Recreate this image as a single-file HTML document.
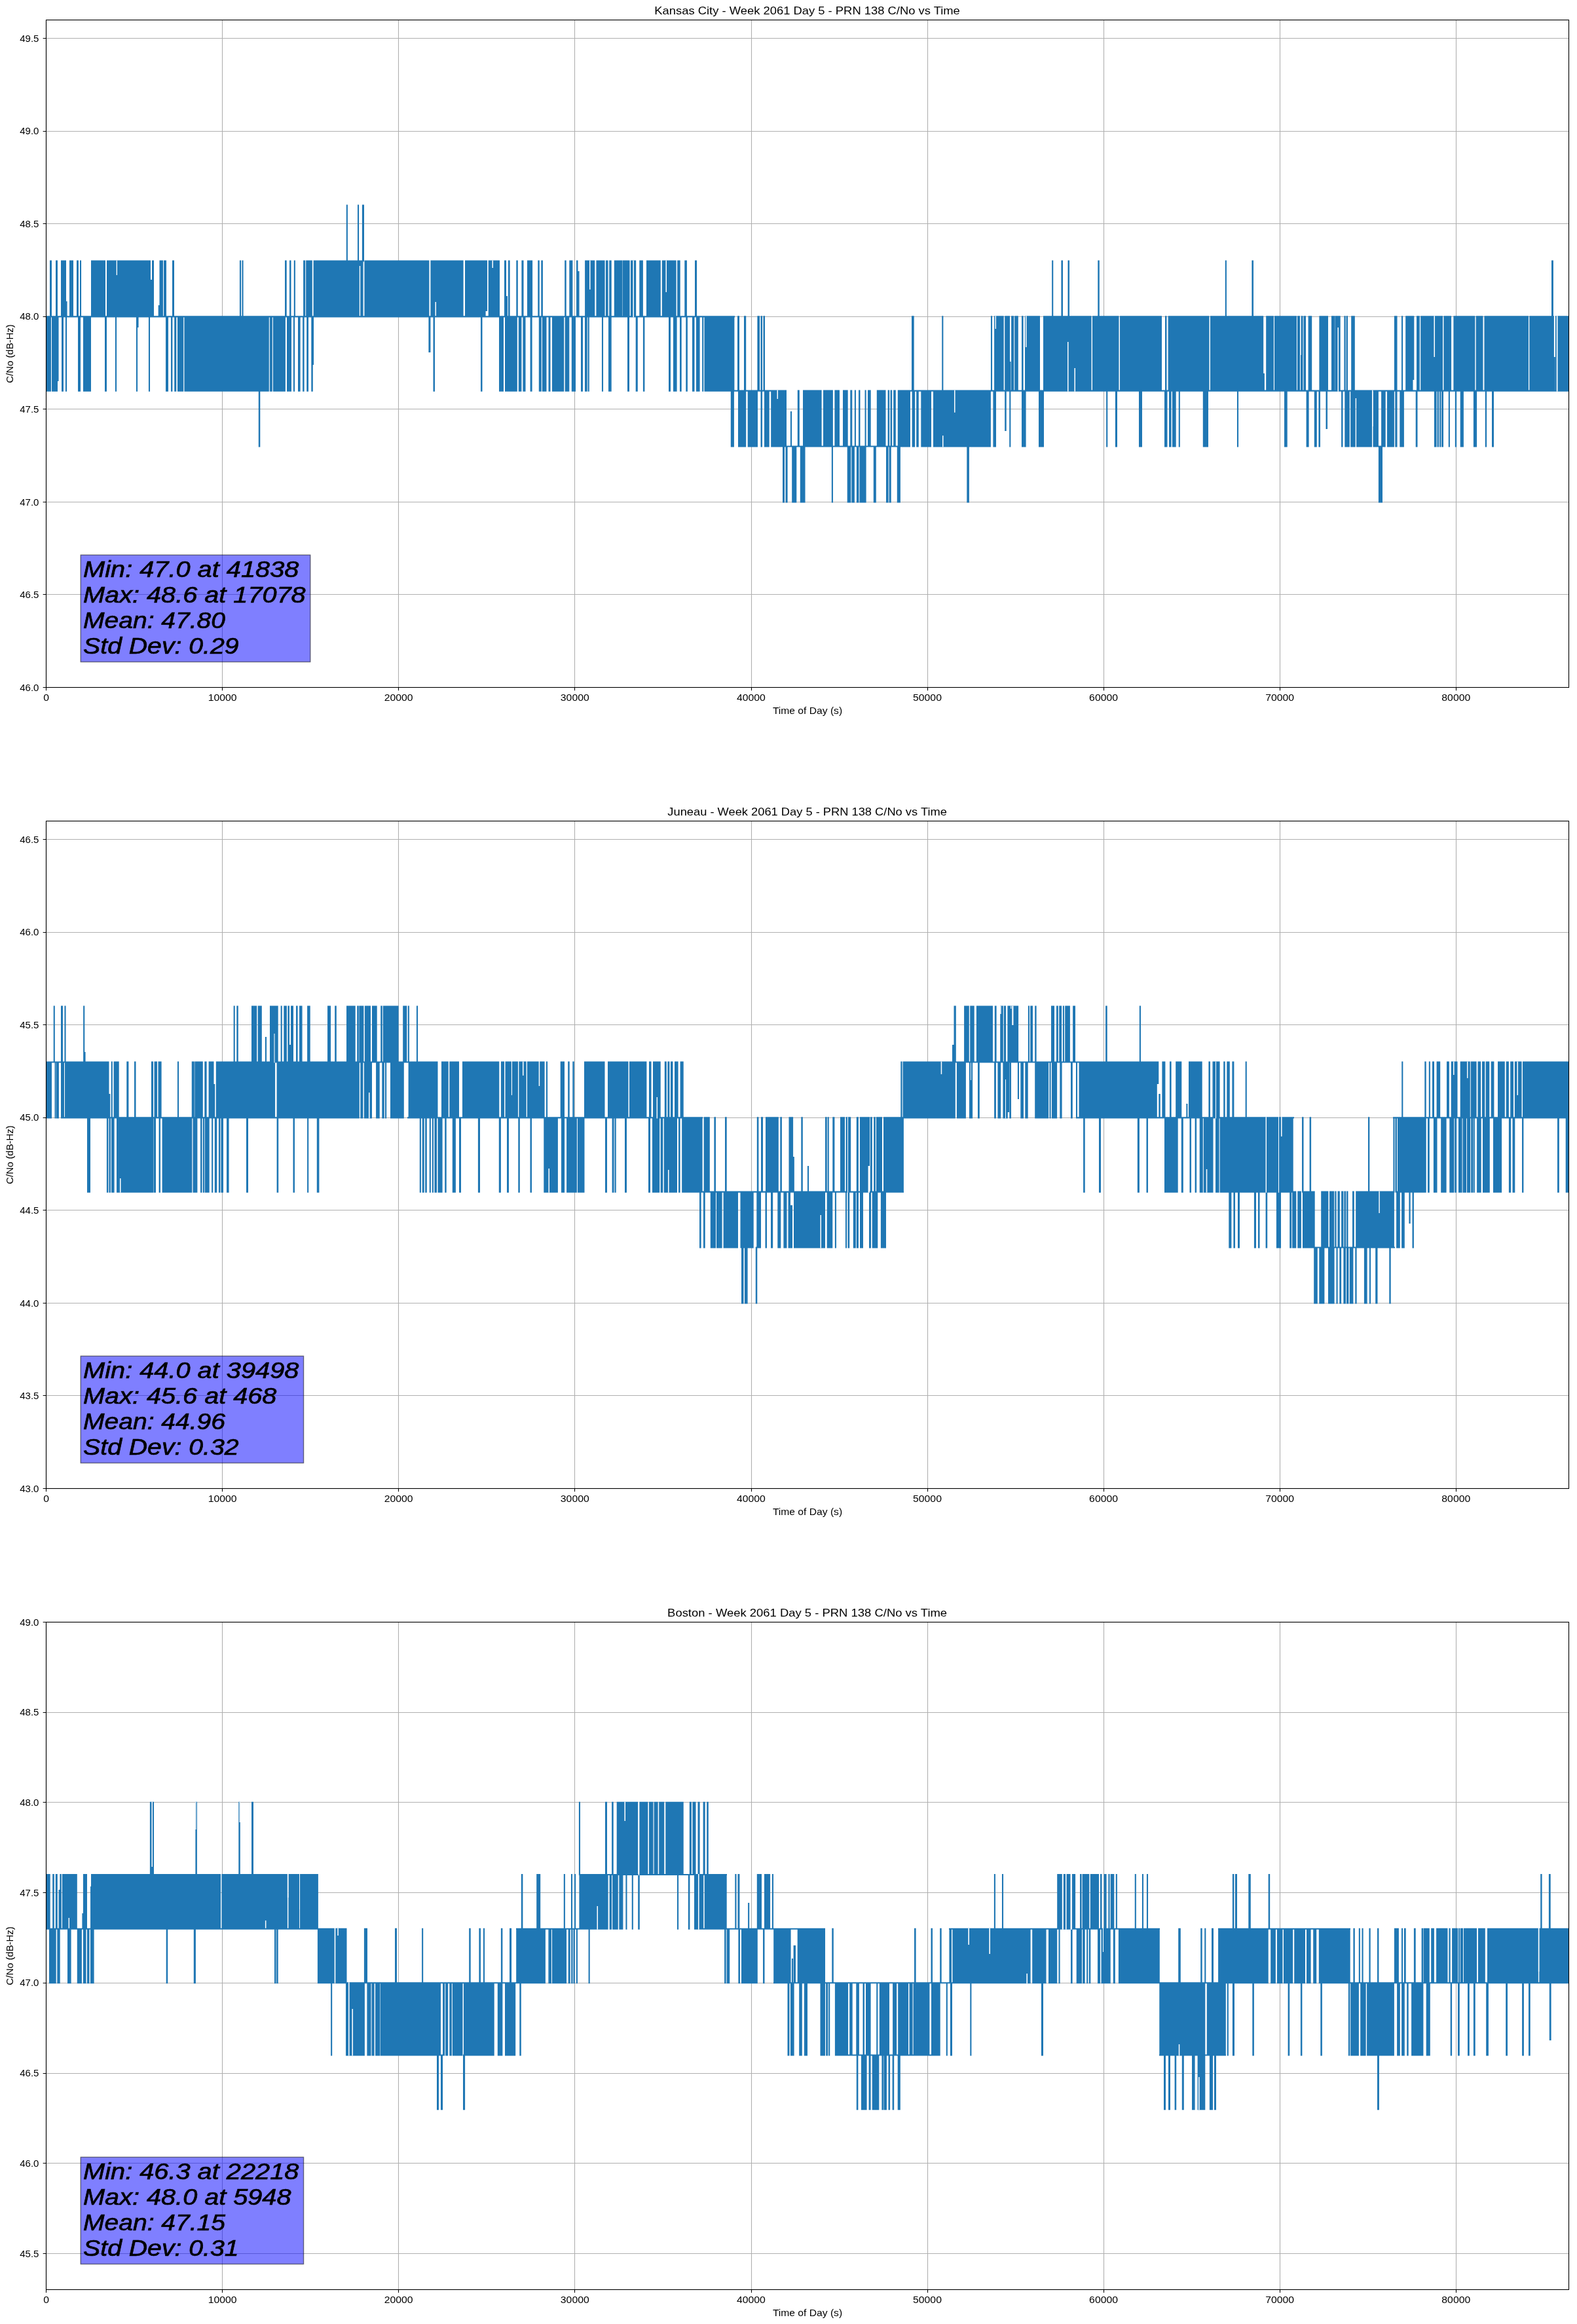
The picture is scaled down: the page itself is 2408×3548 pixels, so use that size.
<!DOCTYPE html><html><head><meta charset="utf-8"><style>html,body{margin:0;padding:0;background:#fff;}svg{display:block;} svg{will-change:transform}</style></head><body>
<svg width="2408" height="3548" viewBox="0 0 2408 3548" font-family="Liberation Sans, sans-serif">
<rect width="2408" height="3548" fill="#fff"/>
<path d="M70.5 30.5V1049.5M339.5 30.5V1049.5M608.5 30.5V1049.5M877.5 30.5V1049.5M1147.5 30.5V1049.5M1416.5 30.5V1049.5M1685.5 30.5V1049.5M1954.5 30.5V1049.5M2223.5 30.5V1049.5M70.5 1049.5H2395.5M70.5 907.5H2395.5M70.5 766.5H2395.5M70.5 624.5H2395.5M70.5 483.5H2395.5M70.5 341.5H2395.5M70.5 200.5H2395.5M70.5 58.5H2395.5" stroke="#b0b0b0" stroke-width="1.11" fill="none"/>
<svg x="70.5" y="30.5" width="2325.0" height="1019.0" viewBox="70.5 30.5 2325.0 1019.0" overflow="hidden">
<path d="M76 397.43h3v87h-3zM85 397.43h3v87h-3zM93 397.43h8v87h-8zM100.45 460h2.1v24.43h-2.1zM106 397.43h6v87h-6zM117 397.43h3v87h-3zM121.95 397.43h2.1v87h-2.1zM139 397.43h22v87h-22zM163 397.43h67v87h-67zM229.95 427h2.1v57.43h-2.1zM232 397.43h3v87h-3zM241.7 466h2.1v18.43h-2.1zM243.5 397.43h5.5v87h-5.5zM250 397.43h4v87h-4zM263 397.43h3v87h-3zM365.95 397.43h2.1v87h-2.1zM369.45 397.43h2.1v87h-2.1zM435 397.43h2.7v87h-2.7zM442 397.43h2.5v87h-2.5zM448.8 397.43h2.1v87h-2.1zM70.5 482.35h7.5v115.3h-7.5zM79 482.35h9v115.3h-9zM87.45 482.35h2.1v99.65h-2.1zM94 482.35h3v115.3h-3zM99.95 482.35h2.1v115.3h-2.1zM119 482.35h4v115.3h-4zM127 482.35h12v115.3h-12zM160 482.35h3v115.3h-3zM175.95 482.35h2.1v115.3h-2.1zM207.95 482.35h2.1v115.3h-2.1zM209.45 482.35h2.1v17.65h-2.1zM226.95 482.35h2.1v115.3h-2.1zM253 482.35h4v115.3h-4zM261 482.35h2.4v115.3h-2.4zM266.2 482.35h3.1v115.3h-3.1zM271 482.35h9.2v115.3h-9.2zM281.4 482.35h129.4v115.3h-129.4zM411.85 482.35h2.1v115.3h-2.1zM413.75 482.35h2.1v115.3h-2.1zM416.9 482.35h19v115.3h-19zM438 482.35h7v115.3h-7zM447.95 482.35h2.1v115.3h-2.1zM455 482.35h3.6v115.3h-3.6zM394.8 482.35h2.5v200.22h-2.5zM463.1 397.43h3.1v87h-3.1zM467.2 397.43h9.6v87h-9.6zM478.6 397.43h70.2v87h-70.2zM548.45 397.43h2.1v8.57h-2.1zM550.2 397.43h4.4v87h-4.4zM556.4 397.43h99v87h-99zM657.4 397.43h7.1v87h-7.1zM664.2 397.43h2.1v63.57h-2.1zM666 397.43h41.6v87h-41.6zM710 397.43h31.6v87h-31.6zM741.6 397.43h2.4v77.57h-2.4zM745.7 397.43h17.3v87h-17.3zM770 397.43h3v87h-3zM772.95 452h2.1v32.43h-2.1zM776 397.43h2.6v87h-2.6zM788.3 397.43h2.5v87h-2.5zM796.4 397.43h3.1v87h-3.1zM805 397.43h8.1v87h-8.1zM821.3 397.43h2.5v87h-2.5zM826.3 397.43h2.6v87h-2.6zM528.8 312.52h2.1v87h-2.1zM546 312.52h2.1v87h-2.1zM552.9 312.52h3.1v87h-3.1zM462.1 482.35h2.5v115.3h-2.5zM468.2 482.35h2.8v115.3h-2.8zM475.3 482.35h2.5v115.3h-2.5zM476.95 482.35h2.1v74.65h-2.1zM654.4 482.35h3v55.65h-3zM661.5 482.35h2.5v115.3h-2.5zM734 482.35h2.5v115.3h-2.5zM762 482.35h7v115.3h-7zM771 482.35h18.8v115.3h-18.8zM791.8 482.35h4.6v115.3h-4.6zM798.4 482.35h4.1v115.3h-4.1zM809.6 482.35h3v115.3h-3zM822.8 482.35h4v115.3h-4zM827.9 482.35h6.6v115.3h-6.6zM837.5 482.35h3v115.3h-3zM843 482.35h12v115.3h-12zM862.2 397.43h2.5v87h-2.5zM869.3 397.43h5.1v87h-5.1zM880 397.43h2.5v87h-2.5zM882.45 414h2.1v70.43h-2.1zM893.1 397.43h15.2v87h-15.2zM910.4 397.43h13.2v87h-13.2zM925 397.43h3.6v87h-3.6zM930.2 397.43h3.5v87h-3.5zM937.8 397.43h12.2v87h-12.2zM950.4 397.43h11.2v87h-11.2zM963 397.43h8.2v87h-8.2zM976.3 397.43h5.6v87h-5.6zM987 397.43h21.8v87h-21.8zM1010.8 397.43h21.8v87h-21.8zM1034.2 397.43h4.5v87h-4.5zM1045.3 397.43h3.6v87h-3.6zM1061 397.43h3.1v87h-3.1zM850 482.35h3.5v115.3h-3.5zM854.5 482.35h6.7v115.3h-6.7zM862.7 482.35h6.6v115.3h-6.6zM872.8 482.35h6.2v115.3h-6.2zM887 482.35h3v115.3h-3zM893 482.35h3.7v115.3h-3.7zM897.65 482.35h2.1v115.3h-2.1zM918.95 482.35h2.1v115.3h-2.1zM929 482.35h4.7v115.3h-4.7zM958 482.35h3v115.3h-3zM970.7 482.35h3.1v115.3h-3.1zM981.9 482.35h2.5v115.3h-2.5zM1021 482.35h3v115.3h-3zM1028 482.35h2.5v115.3h-2.5zM1030.5 482.35h3.1v115.3h-3.1zM1038 482.35h2.7v115.3h-2.7zM1047.3 482.35h2.6v115.3h-2.6zM1057 482.35h3.5v115.3h-3.5zM1063 482.35h5.6v115.3h-5.6zM1072.15 482.35h2.1v115.3h-2.1zM1075.5 482.35h45.9v115.3h-45.9zM1126 482.35h3v115.3h-3zM1136 482.35h3.2v115.3h-3.2zM1156.4 482.35h3.6v115.3h-3.6zM1161.5 482.35h2.5v115.3h-2.5zM1165.5 482.35h2.5v115.3h-2.5zM1115.8 595.57h5.1v87h-5.1zM1127 595.57h12.2v87h-12.2zM1141.7 595.57h15.3v87h-15.3zM1161.5 595.57h2.5v87h-2.5zM1167 595.57h7.7v87h-7.7zM1177.2 595.57h23.8v87h-23.8zM1206.95 628h2.1v54.57h-2.1zM1217.8 595.57h3v87h-3zM1226 595.57h24v87h-24zM1195 680.49h3v87h-3zM1199.5 680.49h3.1v87h-3.1zM1209.2 680.49h7.1v87h-7.1zM1221.8 680.49h7.7v87h-7.7zM1245 595.57h9.6v87h-9.6zM1257 595.57h14.9v87h-14.9zM1274.4 595.57h7.6v87h-7.6zM1287 595.57h7.7v87h-7.7zM1298.3 595.57h3v87h-3zM1304.85 595.57h2.1v87h-2.1zM1311 595.57h2.5v87h-2.5zM1320.55 595.57h2.1v87h-2.1zM1325 595.57h4.7v87h-4.7zM1338.8 595.57h13.7v87h-13.7zM1355.6 595.57h2.5v87h-2.5zM1359.6 595.57h2.6v87h-2.6zM1364.2 595.57h3.6v87h-3.6zM1370.8 595.57h19.2v87h-19.2zM1392.6 595.57h4.6v87h-4.6zM1399.2 595.57h3.6v87h-3.6zM1406.3 595.57h15.7v87h-15.7zM1425 595.57h87.9v87h-87.9zM1516.4 595.57h4.6v87h-4.6zM1534.2 595.57h2.5v62.43h-2.5zM1541.25 595.57h2.1v87h-2.1zM1560 595.57h6.6v87h-6.6zM1586 595.57h8v87h-8zM1392 482.35h3.7v115.3h-3.7zM1438.25 482.35h2.1v115.3h-2.1zM1512.95 482.35h2.1v115.3h-2.1zM1518.1 482.35h14.6v115.3h-14.6zM1534.2 482.35h7.8v115.3h-7.8zM1541.5 552h2.1v45.65h-2.1zM1544.1 482.35h4.1v115.3h-4.1zM1549.2 482.35h5.6v115.3h-5.6zM1560 482.35h2.6v115.3h-2.6zM1565 482.35h23v115.3h-23zM1593 482.35h52v115.3h-52zM1606.15 397.43h2.1v87h-2.1zM1620.4 397.43h2.6v87h-2.6zM1630.5 397.43h2.5v87h-2.5zM1269.85 680.49h2.1v87h-2.1zM1293.7 680.49h5.6v87h-5.6zM1300.3 680.49h4.6v87h-4.6zM1307.9 680.49h3.6v87h-3.6zM1312.5 680.49h10.1v87h-10.1zM1333.8 680.49h4v87h-4zM1353 680.49h3.6v87h-3.6zM1357.6 680.49h3.1v87h-3.1zM1369.8 680.49h5.1v87h-5.1zM1476.3 680.49h3.6v87h-3.6zM1640 482.35h26.6v115.3h-26.6zM1668 482.35h40.5v115.3h-40.5zM1710 482.35h64v115.3h-64zM1779 482.35h2.5v115.3h-2.5zM1783.6 482.35h62.9v115.3h-62.9zM1848 482.35h81.2v115.3h-81.2zM1928.8 570h2.1v27.65h-2.1zM1933.2 482.35h11.7v115.3h-11.7zM1946 482.35h34v115.3h-34zM1981 482.35h4v115.3h-4zM1986 482.35h3.5v115.3h-3.5zM1990.5 482.35h3.5v115.3h-3.5zM1997.6 482.35h5.6v115.3h-5.6zM2014.4 482.35h13.6v115.3h-13.6zM2033 482.35h5v115.3h-5zM2038.7 482.35h6.3v115.3h-6.3zM1676.3 397.43h2.5v87h-2.5zM1870.8 397.43h2.1v87h-2.1zM1911.4 397.43h2.6v87h-2.6zM1689.15 595.57h2.1v87h-2.1zM1702.9 595.57h3.1v87h-3.1zM1739 595.57h5v87h-5zM1778 595.57h4.5v87h-4.5zM1785 595.57h3.6v87h-3.6zM1790 595.57h5.7v87h-5.7zM1799.75 595.57h2.1v87h-2.1zM1836.8 595.57h8.2v87h-8.2zM1888.95 595.57h2.1v87h-2.1zM1961 595.57h4.7v87h-4.7zM1994.6 595.57h4v87h-4zM2006.8 595.57h4v87h-4zM2013.4 595.57h2.6v87h-2.6zM2024.5 595.57h2.5v59.43h-2.5zM2035 482.35h2.3v115.3h-2.3zM2038.3 482.35h8.4v115.3h-8.4zM2052.4 482.35h2.3v115.3h-2.3zM2055.6 482.35h2.4v115.3h-2.4zM2063.2 482.35h5.6v115.3h-5.6zM2128.9 482.35h4.6v115.3h-4.6zM2140 482.35h2.1v115.3h-2.1zM2146.2 482.35h11.3v115.3h-11.3zM2157.2 482.35h2.1v97.65h-2.1zM2163 482.35h4.8v115.3h-4.8zM2169.2 482.35h33.8v115.3h-33.8zM2204.4 482.35h11.7v115.3h-11.7zM2219.4 482.35h32.9v115.3h-32.9zM2253.7 482.35h10.8v115.3h-10.8zM2266.4 482.35h67.6v115.3h-67.6zM2335.3 482.35h37.6v115.3h-37.6zM2372.6 545h2.1v52.65h-2.1zM2374.85 482.35h2.1v115.3h-2.1zM2377 482.35h23v115.3h-23zM2369 397.43h2.9v87h-2.9zM2048.1 595.57h2.4v87h-2.4zM2053.3 595.57h7.5v87h-7.5zM2062.2 595.57h7.5v87h-7.5zM2069.35 595.57h2.1v12.43h-2.1zM2071.1 595.57h23.9v87h-23.9zM2096.5 595.57h8.4v87h-8.4zM2104.9 680.49h6.1v87h-6.1zM2109.1 595.57h6.6v87h-6.6zM2118 595.57h10.9v87h-10.9zM2130.3 595.57h3.2v87h-3.2zM2137.3 595.57h6.6v87h-6.6zM2161.7 595.57h2.8v87h-2.8zM2189.9 595.57h3.7v87h-3.7zM2194.6 595.57h2.4v87h-2.4zM2198 595.57h2.3v87h-2.3zM2201.2 595.57h2.8v87h-2.8zM2211.8 595.57h2.1v87h-2.1zM2221.8 595.57h2.3v87h-2.3zM2229.7 595.57h5.2v87h-5.2zM2249.9 595.57h5.2v87h-5.2zM2267.8 595.57h2.3v87h-2.3zM2278 595.57h3v87h-3zM70 482.35h1052v2.08h-1052zM1116 595.57h85v2.08h-85zM1376 595.57h1024v2.08h-1024zM1193 680.49h197v2.08h-197z" fill="#1f77b4"/>
<path d="M177.7 397.43h1.3v22.57h-1.3zM751.5 397.43h1.5v11.57h-1.5zM900 397.43h1.5v44.57h-1.5zM966.5 397.43h1.5v87h-1.5zM1016.5 397.43h1.5v48.57h-1.5zM1186.5 595.57h1.5v13.43h-1.5zM1457 595.57h1.5v34.13h-1.5zM1439 665h1.5v17.57h-1.5zM1519.6 482.35h1.4v19.65h-1.4zM1566 482.35h1.5v47.65h-1.5zM1630 522h1.5v75.65h-1.5zM1640.5 562h1.5v35.65h-1.5zM1985.6 482.35h1v59.65h-1zM2042.5 500h1.5v97.65h-1.5zM2189.5 482.35h1.5v62.65h-1.5zM2373 482.35h1.5v62.65h-1.5zM2376.8 482.35h1.7v115.3h-1.7zM2095 595.57h1.5v55.43h-1.5z" fill="#fff"/>
</svg>
<rect x="70.5" y="30.5" width="2325" height="1019" fill="none" stroke="#000" stroke-width="1.11"/>
<path d="M70.5 1049.5v4.86M339.5 1049.5v4.86M608.5 1049.5v4.86M877.5 1049.5v4.86M1147.5 1049.5v4.86M1416.5 1049.5v4.86M1685.5 1049.5v4.86M1954.5 1049.5v4.86M2223.5 1049.5v4.86M70.5 1049.5h-4.86M70.5 907.5h-4.86M70.5 766.5h-4.86M70.5 624.5h-4.86M70.5 483.5h-4.86M70.5 341.5h-4.86M70.5 200.5h-4.86M70.5 58.5h-4.86" stroke="#000" stroke-width="1.11" fill="none"/>
<text x="70.5" y="1070.1" font-size="14.2" text-anchor="middle" textLength="8.75" lengthAdjust="spacingAndGlyphs">0</text>
<text x="339.6" y="1070.1" font-size="14.2" text-anchor="middle" textLength="43.88" lengthAdjust="spacingAndGlyphs">10000</text>
<text x="608.69" y="1070.1" font-size="14.2" text-anchor="middle" textLength="43.88" lengthAdjust="spacingAndGlyphs">20000</text>
<text x="877.79" y="1070.1" font-size="14.2" text-anchor="middle" textLength="43.88" lengthAdjust="spacingAndGlyphs">30000</text>
<text x="1146.89" y="1070.1" font-size="14.2" text-anchor="middle" textLength="43.88" lengthAdjust="spacingAndGlyphs">40000</text>
<text x="1415.99" y="1070.1" font-size="14.2" text-anchor="middle" textLength="43.88" lengthAdjust="spacingAndGlyphs">50000</text>
<text x="1685.08" y="1070.1" font-size="14.2" text-anchor="middle" textLength="43.88" lengthAdjust="spacingAndGlyphs">60000</text>
<text x="1954.18" y="1070.1" font-size="14.2" text-anchor="middle" textLength="43.88" lengthAdjust="spacingAndGlyphs">70000</text>
<text x="2223.28" y="1070.1" font-size="14.2" text-anchor="middle" textLength="43.88" lengthAdjust="spacingAndGlyphs">80000</text>
<text x="30.2" y="1054.6" font-size="14.2" textLength="29.3" lengthAdjust="spacingAndGlyphs">46.0</text>
<text x="30.2" y="913.07" font-size="14.2" textLength="29.3" lengthAdjust="spacingAndGlyphs">46.5</text>
<text x="30.2" y="771.54" font-size="14.2" textLength="29.3" lengthAdjust="spacingAndGlyphs">47.0</text>
<text x="30.2" y="630.02" font-size="14.2" textLength="29.3" lengthAdjust="spacingAndGlyphs">47.5</text>
<text x="30.2" y="488.49" font-size="14.2" textLength="29.3" lengthAdjust="spacingAndGlyphs">48.0</text>
<text x="30.2" y="346.96" font-size="14.2" textLength="29.3" lengthAdjust="spacingAndGlyphs">48.5</text>
<text x="30.2" y="205.43" font-size="14.2" textLength="29.3" lengthAdjust="spacingAndGlyphs">49.0</text>
<text x="30.2" y="63.91" font-size="14.2" textLength="29.3" lengthAdjust="spacingAndGlyphs">49.5</text>
<text x="1233" y="1090.1" font-size="14.2" text-anchor="middle" textLength="106.25" lengthAdjust="spacingAndGlyphs">Time of Day (s)</text>
<text transform="translate(19.9 540) rotate(-90)" x="0" y="0" font-size="14.2" text-anchor="middle" textLength="89.62" lengthAdjust="spacingAndGlyphs">C/No (dB-Hz)</text>
<text x="1232.6" y="22.1" font-size="17" text-anchor="middle" textLength="466.5" lengthAdjust="spacingAndGlyphs">Kansas City - Week 2061 Day 5 - PRN 138 C/No vs Time</text>
<rect x="123.2" y="847.3" width="350.6" height="163.2" fill="#0000ff" fill-opacity="0.5" stroke="#000" stroke-opacity="0.5" stroke-width="1.39"/>
<text x="127.1" y="880.9" font-size="35.5" font-style="italic" stroke="#000" stroke-width="0.7" textLength="329.25" lengthAdjust="spacingAndGlyphs">Min: 47.0 at 41838</text>
<text x="127.1" y="919.87" font-size="35.5" font-style="italic" stroke="#000" stroke-width="0.7" textLength="339.5" lengthAdjust="spacingAndGlyphs">Max: 48.6 at 17078</text>
<text x="127.1" y="958.84" font-size="35.5" font-style="italic" stroke="#000" stroke-width="0.7" textLength="216.88" lengthAdjust="spacingAndGlyphs">Mean: 47.80</text>
<text x="127.1" y="997.81" font-size="35.5" font-style="italic" stroke="#000" stroke-width="0.7" textLength="237.5" lengthAdjust="spacingAndGlyphs">Std Dev: 0.29</text>
<path d="M70.5 1253.5V2272.5M339.5 1253.5V2272.5M608.5 1253.5V2272.5M877.5 1253.5V2272.5M1147.5 1253.5V2272.5M1416.5 1253.5V2272.5M1685.5 1253.5V2272.5M1954.5 1253.5V2272.5M2223.5 1253.5V2272.5M70.5 2272.5H2395.5M70.5 2130.5H2395.5M70.5 1989.5H2395.5M70.5 1847.5H2395.5M70.5 1706.5H2395.5M70.5 1564.5H2395.5M70.5 1423.5H2395.5M70.5 1281.5H2395.5" stroke="#b0b0b0" stroke-width="1.11" fill="none"/>
<svg x="70.5" y="1253.5" width="2325.0" height="1019.0" viewBox="70.5 1253.5 2325.0 1019.0" overflow="hidden">
<path d="M70.6 1620.43h8.4v87h-8.4zM83.55 1620.43h2.1v87h-2.1zM86 1620.43h3.9v87h-3.9zM93 1620.43h5v87h-5zM99 1620.43h67.5v87h-67.5zM166.2 1670h2.1v37.43h-2.1zM169.7 1620.43h2.1v87h-2.1zM173.6 1620.43h8.1v87h-8.1zM193.3 1620.43h3.1v87h-3.1zM205 1620.43h2.5v87h-2.5zM230.9 1620.43h3.1v87h-3.1zM235.5 1620.43h4.5v87h-4.5zM241.5 1620.43h5.1v87h-5.1zM270.95 1620.43h2.1v87h-2.1zM292.75 1620.43h2.1v87h-2.1zM294.75 1620.43h2.1v87h-2.1zM297.3 1620.43h3.6v87h-3.6zM300.9 1620.43h8.9v87h-8.9zM312.3 1620.43h3.3v87h-3.3zM318.6 1620.43h7.9v87h-7.9zM326.1 1655h2.1v52.43h-2.1zM329.8 1620.43h90.3v87h-90.3zM422.6 1620.43h47.4v87h-47.4zM81.7 1535.52h2.1v87h-2.1zM93 1535.52h3v87h-3zM98.45 1535.52h2.1v87h-2.1zM127.15 1535.52h2.1v87h-2.1zM128.45 1606h2.1v16.51h-2.1zM356.65 1535.52h2.1v87h-2.1zM361.3 1535.52h2.5v87h-2.5zM384 1535.52h8.2v87h-8.2zM393.7 1535.52h6.1v87h-6.1zM404.9 1583h2.1v39.51h-2.1zM412 1535.52h12.7v87h-12.7zM428.65 1535.52h2.1v87h-2.1zM433.3 1535.52h4.6v87h-4.6zM439.4 1535.52h2.6v87h-2.6zM441.95 1595h2.1v27.51h-2.1zM444 1535.52h4v87h-4zM452 1535.52h2.6v87h-2.6zM457 1535.52h3.7v87h-3.7zM133 1705.35h5v115.3h-5zM162.9 1705.35h2.5v115.3h-2.5zM166.5 1705.35h2.5v115.3h-2.5zM170 1705.35h4.6v115.3h-4.6zM178 1705.35h56v115.3h-56zM234.4 1705.35h3.6v115.3h-3.6zM242.6 1705.35h2.4v115.3h-2.4zM247.6 1705.35h45.7v115.3h-45.7zM294.5 1705.35h6.9v115.3h-6.9zM306 1705.35h2.5v115.3h-2.5zM309.8 1705.35h2.5v115.3h-2.5zM313 1705.35h6.7v115.3h-6.7zM323.15 1705.35h2.1v115.3h-2.1zM327.8 1705.35h3.5v115.3h-3.5zM333.9 1705.35h2.5v115.3h-2.5zM337.4 1705.35h3.6v115.3h-3.6zM346 1705.35h3.6v115.3h-3.6zM376 1705.35h3v115.3h-3zM422.6 1705.35h2.6v115.3h-2.6zM447.5 1705.35h2.5v115.3h-2.5zM93 1705.35h377v2.08h-377zM70 1620.43h30v2.08h-30zM460 1620.43h88.8v87h-88.8zM550.3 1620.43h4.1v87h-4.1zM555.9 1620.43h12.1v87h-12.1zM574.1 1620.43h5.6v87h-5.6zM583.3 1620.43h3.5v87h-3.5zM588.05 1620.43h2.1v87h-2.1zM596 1620.43h20.8v87h-20.8zM623.6 1620.43h44.9v87h-44.9zM674 1620.43h10.7v87h-10.7zM686.3 1620.43h14.7v87h-14.7zM706 1620.43h56.3v87h-56.3zM764.9 1620.43h5.1v87h-5.1zM771.5 1620.43h9.4v87h-9.4zM780.4 1672h2.1v35.43h-2.1zM782 1620.43h9v87h-9zM792.3 1620.43h11.4v87h-11.4zM805 1620.43h17.7v87h-17.7zM822.4 1658h2.1v49.43h-2.1zM824.2 1620.43h7.4v87h-7.4zM833.95 1620.43h2.1v87h-2.1zM855.7 1620.43h6.3v87h-6.3zM459.45 1535.52h2.1v87h-2.1zM469.1 1535.52h4.6v87h-4.6zM500 1535.52h5.1v87h-5.1zM511.2 1535.52h2.6v87h-2.6zM529 1535.52h13.7v87h-13.7zM545.2 1535.52h2.6v87h-2.6zM548.3 1535.52h7.1v87h-7.1zM556.9 1535.52h9.1v87h-9.1zM568 1535.52h7.7v87h-7.7zM581.2 1535.52h2.6v87h-2.6zM584.8 1535.52h23.8v87h-23.8zM615.2 1535.52h6.1v87h-6.1zM622.8 1535.52h2.1v87h-2.1zM635.95 1535.52h2.1v87h-2.1zM469.1 1705.35h2.1v115.3h-2.1zM483.8 1705.35h3.6v115.3h-3.6zM640.8 1705.35h2.1v115.3h-2.1zM644.7 1705.35h3v115.3h-3zM649.2 1705.35h2.6v115.3h-2.6zM655.75 1705.35h2.1v115.3h-2.1zM659.85 1705.35h2.1v115.3h-2.1zM663.4 1705.35h3.6v115.3h-3.6zM668.5 1705.35h7.1v115.3h-7.1zM679.2 1705.35h2.5v115.3h-2.5zM690.8 1705.35h5.1v115.3h-5.1zM701 1705.35h3v115.3h-3zM729.9 1705.35h3.1v115.3h-3.1zM761.8 1705.35h3.1v115.3h-3.1zM774 1705.35h3v115.3h-3zM791.3 1705.35h2.5v115.3h-2.5zM809.5 1705.35h2.5v115.3h-2.5zM830.3 1705.35h21.6v115.3h-21.6zM857 1705.35h5v115.3h-5zM460 1705.35h88v2.08h-88zM622 1705.35h240v2.08h-240zM548 1620.43h76v2.08h-76zM856 1620.43h3.6v87h-3.6zM867.2 1620.43h2.5v87h-2.5zM874.3 1620.43h2.5v87h-2.5zM892 1620.43h31.5v87h-31.5zM928 1620.43h31.5v87h-31.5zM961 1620.43h26.4v87h-26.4zM991 1620.43h3.5v87h-3.5zM997 1620.43h11.7v87h-11.7zM1014.8 1620.43h3v87h-3zM1019.4 1620.43h3v87h-3zM1024 1620.43h3.5v87h-3.5zM1030 1620.43h5.6v87h-5.6zM1038.6 1620.43h5.1v87h-5.1zM857.5 1705.35h4.6v115.3h-4.6zM865.1 1705.35h15.8v115.3h-15.8zM881.9 1705.35h10.6v115.3h-10.6zM924 1705.35h3v115.3h-3zM934.6 1705.35h2.9v115.3h-2.9zM938.5 1705.35h2.2v115.3h-2.2zM954 1705.35h3v115.3h-3zM990 1705.35h3v115.3h-3zM996 1705.35h11.2v115.3h-11.2zM1008.7 1705.35h3.6v115.3h-3.6zM1013.8 1705.35h20.2v115.3h-20.2zM1036 1705.35h2.6v115.3h-2.6zM1041.2 1705.35h31.4v115.3h-31.4zM1074.7 1705.35h9.1v115.3h-9.1zM1090.4 1705.35h2.6v115.3h-2.6zM1107 1705.35h2.7v115.3h-2.7zM1155.8 1705.35h2.6v115.3h-2.6zM1162 1705.35h3v115.3h-3zM1169 1705.35h19.8v115.3h-19.8zM1191.3 1705.35h2.6v115.3h-2.6zM1204.5 1705.35h6.6v115.3h-6.6zM1210.75 1766h2.1v54.65h-2.1zM1223.3 1705.35h2.5v115.3h-2.5zM1232.95 1780h2.1v40.65h-2.1zM1068 1818.57h2.6v87h-2.6zM1074 1818.57h2.7v87h-2.7zM1084.8 1818.57h8.2v87h-8.2zM1094 1818.57h8.6v87h-8.6zM1104.6 1818.57h22.4v87h-22.4zM1130.5 1818.57h20.2v87h-20.2zM1155.3 1818.57h6.7v87h-6.7zM1168.5 1818.57h2.5v87h-2.5zM1177 1818.57h3.2v87h-3.2zM1187.3 1818.57h5v87h-5zM1196.4 1818.57h5.1v87h-5.1zM1203.5 1818.57h3.5v87h-3.5zM1207 1840h3v65.57h-3zM1212 1818.57h48v87h-48zM1132 1903.49h3.5v87h-3.5zM1137 1903.49h4.6v87h-4.6zM1153.8 1903.49h2.5v87h-2.5zM855 1705.35h218v2.08h-218zM1068 1818.57h192v2.08h-192zM1250 1818.57h9.6v87h-9.6zM1262.7 1818.57h8.6v87h-8.6zM1274.85 1818.57h2.1v87h-2.1zM1290.95 1818.57h2.1v87h-2.1zM1294.5 1818.57h2.7v87h-2.7zM1302.8 1818.57h4v87h-4zM1307.8 1818.57h3.2v87h-3.2zM1313 1818.57h5v87h-5zM1327 1818.57h3v87h-3zM1331.7 1818.57h8.6v87h-8.6zM1344.9 1818.57h8.1v87h-8.1zM1260 1705.35h2.7v115.3h-2.7zM1263.65 1705.35h2.1v115.3h-2.1zM1271.3 1705.35h3.1v115.3h-3.1zM1283 1705.35h7v115.3h-7zM1291.6 1705.35h7.6v115.3h-7.6zM1307.8 1705.35h3.1v115.3h-3.1zM1312.9 1705.35h13.2v115.3h-13.2zM1325.9 1705.35h2.1v115.3h-2.1zM1328.8 1705.35h3v115.3h-3zM1334.2 1705.35h2.7v115.3h-2.7zM1338 1705.35h9v115.3h-9zM1349 1705.35h30.9v115.3h-30.9zM1375.3 1620.43h2.3v87h-2.3zM1378.6 1620.43h61.4v87h-61.4zM1440 1620.43h18.8v87h-18.8zM1460.9 1620.43h14v87h-14zM1480 1620.43h2.1v87h-2.1zM1481.5 1649h2.1v58.43h-2.1zM1483 1620.43h2.1v87h-2.1zM1493 1620.43h2.8v87h-2.8zM1518.1 1620.43h2.8v87h-2.8zM1523.4 1620.43h4.8v87h-4.8zM1531.4 1620.43h7.4v87h-7.4zM1538.8 1620.43h2.2v77.57h-2.2zM1541.3 1620.43h2.7v87h-2.7zM1553.9 1620.43h2.1v57.57h-2.1zM1558.3 1620.43h4.7v87h-4.7zM1565.3 1620.43h4.4v87h-4.4zM1580.2 1620.43h20.9v87h-20.9zM1602.5 1620.43h2.1v87h-2.1zM1606 1620.43h8.1v87h-8.1zM1618.3 1620.43h3.3v87h-3.3zM1635 1620.43h2.8v87h-2.8zM1642.95 1620.43h2.1v87h-2.1zM1648.1 1620.43h13.9v87h-13.9zM1454 1595h2.5v27.51h-2.5zM1456.5 1535.52h3.3v87h-3.3zM1472.1 1535.52h7.7v87h-7.7zM1481.2 1535.52h6.5v87h-6.5zM1490.9 1535.52h25.1v87h-25.1zM1518.8 1535.52h2.8v87h-2.8zM1527.2 1535.52h4.6v87h-4.6zM1532.8 1535.52h3.2v87h-3.2zM1538.4 1535.52h16.7v87h-16.7zM1569.85 1535.52h2.1v87h-2.1zM1573.2 1535.52h3.8v87h-3.8zM1580.2 1535.52h2.4v87h-2.4zM1605 1535.52h5v87h-5zM1613 1535.52h2.8v87h-2.8zM1617.2 1535.52h3.9v87h-3.9zM1622.85 1535.52h2.1v87h-2.1zM1626.2 1535.52h7.7v87h-7.7zM1638.1 1535.52h3.9v87h-3.9zM1250 1818.57h130v2.08h-130zM1375 1705.35h65v2.08h-65zM1455 1620.43h197v2.08h-197zM1647.5 1620.43h119.3v87h-119.3zM1766.8 1620.43h2.5v34.57h-2.5zM1769.3 1670h2.5v37.43h-2.5zM1774.4 1620.43h5v87h-5zM1786 1620.43h2.6v87h-2.6zM1795.2 1620.43h9.1v87h-9.1zM1811.35 1685h2.1v22.43h-2.1zM1815 1620.43h20.7v87h-20.7zM1845.4 1620.43h2.6v87h-2.6zM1851.5 1620.43h11.1v87h-11.1zM1868.2 1620.43h2.5v87h-2.5zM1873.3 1620.43h4.5v87h-4.5zM1881.4 1620.43h3v87h-3zM1901.65 1620.43h2.1v87h-2.1zM1688.1 1535.52h2.6v87h-2.6zM1739.85 1535.52h2.1v87h-2.1zM1654.1 1705.35h2.6v115.3h-2.6zM1678 1705.35h3v115.3h-3zM1736.8 1705.35h3.1v115.3h-3.1zM1750.5 1705.35h2.5v115.3h-2.5zM1778 1705.35h20.7v115.3h-20.7zM1803.8 1705.35h3v115.3h-3zM1816.5 1705.35h2.5v115.3h-2.5zM1824.6 1705.35h2.5v115.3h-2.5zM1831.7 1705.35h5.1v115.3h-5.1zM1837.8 1705.35h14.7v115.3h-14.7zM1856 1705.35h5.6v115.3h-5.6zM1862.6 1705.35h112.1v115.3h-112.1zM1988 1705.35h2.5v115.3h-2.5zM1999.6 1705.35h2.5v115.3h-2.5zM1876.3 1818.57h4.1v87h-4.1zM1883.4 1818.57h2.6v87h-2.6zM1890 1818.57h3v87h-3zM1914.9 1818.57h3.1v87h-3.1zM1921 1818.57h2.5v87h-2.5zM1932.6 1818.57h2.6v87h-2.6zM1948.9 1818.57h7.1v87h-7.1zM1969.2 1818.57h3v87h-3zM1973.2 1818.57h6.1v87h-6.1zM1981.3 1818.57h5.6v87h-5.6zM1989 1818.57h18.7v87h-18.7zM2017.2 1818.57h11.2v87h-11.2zM2030 1818.57h6v87h-6zM2006.2 1903.49h5.6v87h-5.6zM2014.3 1903.49h8.1v87h-8.1zM2028 1903.49h9.6v87h-9.6zM1645 1705.35h331v2.08h-331zM1870 1818.57h105v2.08h-105zM2007 1903.49h123v2.08h-123zM1645 1620.43h5v2.08h-5zM2035 1818.57h2.3v87h-2.3zM2038.3 1818.57h2.3v87h-2.3zM2042.5 1818.57h3.3v87h-3.3zM2048.1 1818.57h3.3v87h-3.3zM2052.4 1818.57h2.8v87h-2.8zM2056.1 1818.57h2.4v87h-2.4zM2065 1818.57h2.8v87h-2.8zM2070.2 1818.57h58.7v87h-58.7zM2132.1 1818.57h5.7v87h-5.7zM2140.1 1818.57h4.7v87h-4.7zM2151.4 1818.57h2.3v49.43h-2.3zM2156.5 1818.57h2.4v87h-2.4zM2089 1705.35h2.3v115.3h-2.3zM2127.4 1705.35h2.1v115.3h-2.1zM2130.5 1705.35h2.5v115.3h-2.5zM2134 1705.35h43.7v115.3h-43.7zM2180 1705.35h2.8v115.3h-2.8zM2188.9 1705.35h5.6v115.3h-5.6zM2200.2 1705.35h8.4v115.3h-8.4zM2213.3 1705.35h7.1v115.3h-7.1zM2221.3 1705.35h2.8v115.3h-2.8zM2227 1705.35h5.6v115.3h-5.6zM2233.5 1705.35h5.6v115.3h-5.6zM2240 1705.35h5.2v115.3h-5.2zM2246.2 1705.35h2.8v115.3h-2.8zM2249.5 1705.35h2.3v115.3h-2.3zM2255.1 1705.35h6.6v115.3h-6.6zM2264 1705.35h10.8v115.3h-10.8zM2280 1705.35h13.1v115.3h-13.1zM2303.9 1705.35h3.3v115.3h-3.3zM2309.5 1705.35h3.8v115.3h-3.8zM2324 1705.35h2.4v115.3h-2.4zM2378 1705.35h2.8v115.3h-2.8zM2390.7 1705.35h9.3v115.3h-9.3zM2140.25 1620.43h2.1v87h-2.1zM2175.3 1620.43h2.4v87h-2.4zM2181.8 1620.43h2.1v87h-2.1zM2187 1620.43h3v87h-3zM2193.6 1620.43h5.6v87h-5.6zM2209 1620.43h3.9v87h-3.9zM2215.7 1620.43h9.8v87h-9.8zM2229.7 1620.43h15.1v87h-15.1zM2245.7 1620.43h8.9v87h-8.9zM2256.5 1620.43h4.7v87h-4.7zM2263 1620.43h4.3v87h-4.3zM2268.7 1620.43h5.6v87h-5.6zM2276.7 1620.43h4.7v87h-4.7zM2287 1620.43h10.8v87h-10.8zM2299.7 1620.43h4.2v87h-4.2zM2306.2 1620.43h4.8v87h-4.8zM2312.8 1620.43h10.8v87h-10.8zM2325 1620.43h75v87h-75zM2127 1705.35h273v2.08h-273zM2035 1903.49h2.3v87h-2.3zM2040.5 1903.49h2.1v87h-2.1zM2045.3 1903.49h2.8v87h-2.8zM2051.4 1903.49h3.6v87h-3.6zM2056 1903.49h3.4v87h-3.4zM2060.8 1903.49h5.6v87h-5.6zM2069.3 1903.49h2.3v87h-2.3zM2082.9 1903.49h4.7v87h-4.7zM2090.95 1903.49h2.1v87h-2.1zM2100.2 1903.49h3.3v87h-3.3zM2121.3 1903.49h2.4v87h-2.4z" fill="#1f77b4"/>
<path d="M418.5 1578h1v44.51h-1zM183 1799h1.5v21.65h-1.5zM563 1668h1.5v39.43h-1.5zM798 1620.43h1.5v21.57h-1.5zM837.5 1784h1.5v36.65h-1.5zM1002.6 1675h1.4v32.43h-1.4zM1020 1786h1.5v34.65h-1.5zM1252.5 1855h1.5v50.57h-1.5zM1294 1705.35h1v115.3h-1zM1325.6 1780h2.4v40.65h-2.4zM1436.7 1620.43h1.5v19.57h-1.5zM1535 1648h1v59.43h-1zM1527.2 1535.52h1.4v12.48h-1.4zM1543.2 1535.52h1.1v4.48h-1.1zM1545.3 1535.52h2.1v29.48h-2.1zM1856 1620.43h1v87h-1zM1841.8 1785h1.5v35.65h-1.5zM1932.6 1705.35h1.4v115.3h-1.4zM1952 1705.35h1v115.3h-1zM1956 1705.35h1.5v29.65h-1.5zM2105.4 1818.57h1.4v33.43h-1.4zM2219 1620.43h1.5v20.57h-1.5zM2240 1620.43h1.4v25.57h-1.4zM2316.5 1620.43h1.5v51.57h-1.5z" fill="#fff"/>
</svg>
<rect x="70.5" y="1253.5" width="2325" height="1019" fill="none" stroke="#000" stroke-width="1.11"/>
<path d="M70.5 2272.5v4.86M339.5 2272.5v4.86M608.5 2272.5v4.86M877.5 2272.5v4.86M1147.5 2272.5v4.86M1416.5 2272.5v4.86M1685.5 2272.5v4.86M1954.5 2272.5v4.86M2223.5 2272.5v4.86M70.5 2272.5h-4.86M70.5 2130.5h-4.86M70.5 1989.5h-4.86M70.5 1847.5h-4.86M70.5 1706.5h-4.86M70.5 1564.5h-4.86M70.5 1423.5h-4.86M70.5 1281.5h-4.86" stroke="#000" stroke-width="1.11" fill="none"/>
<text x="70.5" y="2293.1" font-size="14.2" text-anchor="middle" textLength="8.75" lengthAdjust="spacingAndGlyphs">0</text>
<text x="339.6" y="2293.1" font-size="14.2" text-anchor="middle" textLength="43.88" lengthAdjust="spacingAndGlyphs">10000</text>
<text x="608.69" y="2293.1" font-size="14.2" text-anchor="middle" textLength="43.88" lengthAdjust="spacingAndGlyphs">20000</text>
<text x="877.79" y="2293.1" font-size="14.2" text-anchor="middle" textLength="43.88" lengthAdjust="spacingAndGlyphs">30000</text>
<text x="1146.89" y="2293.1" font-size="14.2" text-anchor="middle" textLength="43.88" lengthAdjust="spacingAndGlyphs">40000</text>
<text x="1415.99" y="2293.1" font-size="14.2" text-anchor="middle" textLength="43.88" lengthAdjust="spacingAndGlyphs">50000</text>
<text x="1685.08" y="2293.1" font-size="14.2" text-anchor="middle" textLength="43.88" lengthAdjust="spacingAndGlyphs">60000</text>
<text x="1954.18" y="2293.1" font-size="14.2" text-anchor="middle" textLength="43.88" lengthAdjust="spacingAndGlyphs">70000</text>
<text x="2223.28" y="2293.1" font-size="14.2" text-anchor="middle" textLength="43.88" lengthAdjust="spacingAndGlyphs">80000</text>
<text x="30.2" y="2277.6" font-size="14.2" textLength="29.3" lengthAdjust="spacingAndGlyphs">43.0</text>
<text x="30.2" y="2136.07" font-size="14.2" textLength="29.3" lengthAdjust="spacingAndGlyphs">43.5</text>
<text x="30.2" y="1994.54" font-size="14.2" textLength="29.3" lengthAdjust="spacingAndGlyphs">44.0</text>
<text x="30.2" y="1853.02" font-size="14.2" textLength="29.3" lengthAdjust="spacingAndGlyphs">44.5</text>
<text x="30.2" y="1711.49" font-size="14.2" textLength="29.3" lengthAdjust="spacingAndGlyphs">45.0</text>
<text x="30.2" y="1569.96" font-size="14.2" textLength="29.3" lengthAdjust="spacingAndGlyphs">45.5</text>
<text x="30.2" y="1428.43" font-size="14.2" textLength="29.3" lengthAdjust="spacingAndGlyphs">46.0</text>
<text x="30.2" y="1286.91" font-size="14.2" textLength="29.3" lengthAdjust="spacingAndGlyphs">46.5</text>
<text x="1233" y="2313.1" font-size="14.2" text-anchor="middle" textLength="106.25" lengthAdjust="spacingAndGlyphs">Time of Day (s)</text>
<text transform="translate(19.9 1763) rotate(-90)" x="0" y="0" font-size="14.2" text-anchor="middle" textLength="89.62" lengthAdjust="spacingAndGlyphs">C/No (dB-Hz)</text>
<text x="1232.6" y="1245.1" font-size="17" text-anchor="middle" textLength="426.5" lengthAdjust="spacingAndGlyphs">Juneau - Week 2061 Day 5 - PRN 138 C/No vs Time</text>
<rect x="123.2" y="2070.3" width="340.35" height="163.2" fill="#0000ff" fill-opacity="0.5" stroke="#000" stroke-opacity="0.5" stroke-width="1.39"/>
<text x="127.1" y="2103.9" font-size="35.5" font-style="italic" stroke="#000" stroke-width="0.7" textLength="329.25" lengthAdjust="spacingAndGlyphs">Min: 44.0 at 39498</text>
<text x="127.1" y="2142.87" font-size="35.5" font-style="italic" stroke="#000" stroke-width="0.7" textLength="295.25" lengthAdjust="spacingAndGlyphs">Max: 45.6 at 468</text>
<text x="127.1" y="2181.84" font-size="35.5" font-style="italic" stroke="#000" stroke-width="0.7" textLength="216.88" lengthAdjust="spacingAndGlyphs">Mean: 44.96</text>
<text x="127.1" y="2220.81" font-size="35.5" font-style="italic" stroke="#000" stroke-width="0.7" textLength="237.5" lengthAdjust="spacingAndGlyphs">Std Dev: 0.32</text>
<path d="M70.5 2476.5V3495.5M339.5 2476.5V3495.5M608.5 2476.5V3495.5M877.5 2476.5V3495.5M1147.5 2476.5V3495.5M1416.5 2476.5V3495.5M1685.5 2476.5V3495.5M1954.5 2476.5V3495.5M2223.5 2476.5V3495.5M70.5 3440.5H2395.5M70.5 3302.5H2395.5M70.5 3165.5H2395.5M70.5 3027.5H2395.5M70.5 2889.5H2395.5M70.5 2751.5H2395.5M70.5 2614.5H2395.5M70.5 2476.5H2395.5" stroke="#b0b0b0" stroke-width="1.11" fill="none"/>
<svg x="70.5" y="2476.5" width="2325.0" height="1019.0" viewBox="70.5 2476.5 2325.0 1019.0" overflow="hidden">
<path d="M70.6 2861.03h6.1v84.7h-6.1zM80.2 2861.03h2.6v84.7h-2.6zM84.8 2861.03h3v84.7h-3zM89.55 2885h2.1v60.73h-2.1zM91.4 2861.03h2.5v84.7h-2.5zM95 2861.03h9.6v84.7h-9.6zM104.25 2861.03h2.1v66.97h-2.1zM106 2861.03h11.8v84.7h-11.8zM125.4 2921h2.1v24.73h-2.1zM126.9 2861.03h6.1v84.7h-6.1zM138.05 2880h2.1v65.73h-2.1zM139 2861.03h198v84.7h-198zM338.4 2861.03h66.5v84.7h-66.5zM404.6 2861.03h2.1v70.97h-2.1zM406.4 2861.03h32.5v84.7h-32.5zM440.4 2861.03h16.7v84.7h-16.7zM458 2861.03h12v84.7h-12zM228.9 2750.87h6.1v112.24h-6.1zM298.4 2750.87h2.5v112.24h-2.5zM364.3 2750.87h2.5v112.24h-2.5zM384 2750.87h3v112.24h-3zM75 2943.65h10.7v84.7h-10.7zM87.3 2943.65h4.4v84.7h-4.4zM103 2943.65h5.6v84.7h-5.6zM117.8 2943.65h7.1v84.7h-7.1zM126.9 2943.65h4.6v84.7h-4.6zM133 2943.65h3.5v84.7h-3.5zM138 2943.65h5.6v84.7h-5.6zM253.7 2943.65h2.5v84.7h-2.5zM295.8 2943.65h3.1v84.7h-3.1zM419 2943.65h2.5v84.7h-2.5zM422.2 2943.65h2.5v84.7h-2.5zM70 2943.65h400v2.08h-400zM460 2861.03h25.9v84.7h-25.9zM484.9 2943.65h25.8v84.7h-25.8zM512.3 2943.65h17.2v84.7h-17.2zM555.9 2943.65h5.1v84.7h-5.1zM603 2943.65h3v84.7h-3zM644.1 2943.65h2.1v84.7h-2.1zM716.2 2943.65h2.5v84.7h-2.5zM731.4 2943.65h2.6v84.7h-2.6zM737.95 2943.65h2.1v84.7h-2.1zM764.9 2943.65h2.5v84.7h-2.5zM778 2943.65h3.1v84.7h-3.1zM788.2 2943.65h44.7v84.7h-44.7zM837.4 2943.65h4.6v84.7h-4.6zM843 2943.65h22v84.7h-22zM795.8 2861.03h2.6v84.7h-2.6zM819.2 2861.03h6v84.7h-6zM505.1 3026.27h2.1v112.24h-2.1zM528 3026.27h28.9v112.24h-28.9zM560.4 3026.27h6.1v112.24h-6.1zM567.5 3026.27h4.1v112.24h-4.1zM573.1 3026.27h7.1v112.24h-7.1zM580.7 3026.27h92.3v112.24h-92.3zM676.1 3026.27h3.1v112.24h-3.1zM680.2 3026.27h4v112.24h-4zM686.3 3026.27h3.5v112.24h-3.5zM690.8 3026.27h15.7v112.24h-15.7zM708 3026.27h46.7v112.24h-46.7zM759.8 3026.27h7.6v112.24h-7.6zM771 3026.27h16.2v112.24h-16.2zM793.3 3026.27h2.5v112.24h-2.5zM667 3136.43h3v84.7h-3zM673 3136.43h3.1v84.7h-3.1zM707 3136.43h3.1v84.7h-3.1zM460 2943.65h26v2.08h-26zM528 3026.27h262v2.08h-262zM788 2943.65h77v2.08h-77zM855 2943.65h10.1v84.7h-10.1zM867.7 2943.65h3v84.7h-3zM872.2 2943.65h2.3v84.7h-2.3zM875.5 2943.65h2.3v84.7h-2.3zM879.85 2943.65h2.1v84.7h-2.1zM898.6 2943.65h2.1v84.7h-2.1zM1106.1 2943.65h2.5v84.7h-2.5zM1109.6 2943.65h4.6v84.7h-4.6zM1127.4 2943.65h2.6v84.7h-2.6zM1132 2943.65h24.8v84.7h-24.8zM1165 2943.65h2.5v84.7h-2.5zM1181.2 2943.65h26.4v84.7h-26.4zM1208.95 2990h2.1v38.35h-2.1zM1211.6 2970h3.4v58.35h-3.4zM1217.7 2943.65h42.3v84.7h-42.3zM860.8 2861.03h2.1v84.7h-2.1zM871.95 2861.03h2.1v84.7h-2.1zM877 2861.03h2.1v84.7h-2.1zM884.4 2861.03h44.2v84.7h-44.2zM930.6 2861.03h3.5v84.7h-3.5zM935.2 2861.03h8.6v84.7h-8.6zM945.3 2861.03h6.1v84.7h-6.1zM955.4 2861.03h2.1v84.7h-2.1zM964.75 2861.03h2.1v84.7h-2.1zM974.2 2861.03h2.6v84.7h-2.6zM1034 2861.03h2.1v84.7h-2.1zM1050.8 2861.03h2.6v84.7h-2.6zM1060 2861.03h14.2v84.7h-14.2zM1075.7 2861.03h34v84.7h-34zM1122.3 2861.03h2.2v84.7h-2.2zM1126.5 2861.03h2.9v84.7h-2.9zM1142.1 2905h2.1v40.73h-2.1zM1155.8 2861.03h7.2v84.7h-7.2zM1167 2861.03h9.1v84.7h-9.1zM1178.9 2861.03h2.1v84.7h-2.1zM883.9 2750.87h2.1v112.24h-2.1zM924 2750.87h3v112.24h-3zM934.1 2750.87h2.6v112.24h-2.6zM941.7 2750.87h32.5v112.24h-32.5zM976.2 2750.87h13.2v112.24h-13.2zM991 2750.87h6.5v112.24h-6.5zM998.6 2750.87h6.1v112.24h-6.1zM1006.2 2750.87h8.1v112.24h-8.1zM1016.3 2750.87h27.4v112.24h-27.4zM1052.8 2750.87h3.1v112.24h-3.1zM1057.4 2750.87h5.1v112.24h-5.1zM1065.5 2750.87h3.1v112.24h-3.1zM1073.6 2750.87h3.1v112.24h-3.1zM1079.2 2750.87h2.6v112.24h-2.6zM1202.5 3026.27h3v112.24h-3zM1207 3026.27h5.6v112.24h-5.6zM1220.2 3026.27h4.6v112.24h-4.6zM1227.9 3026.27h5.1v112.24h-5.1zM1252.7 3026.27h7.3v112.24h-7.3zM855 2943.65h73.6v2.08h-73.6zM1060 2943.65h200v2.08h-200zM884 2861.03h226v2.08h-226zM1181 3026.27h79v2.08h-79zM1250 2943.65h6.6v84.7h-6.6zM1270.3 2943.65h2.5v84.7h-2.5zM1396 2943.65h2.6v84.7h-2.6zM1421.5 2943.65h2.5v84.7h-2.5zM1435.2 2943.65h2.5v84.7h-2.5zM1449.4 2943.65h3.6v84.7h-3.6zM1454.4 2943.65h119.2v84.7h-119.2zM1576.2 2943.65h21.3v84.7h-21.3zM1601 2943.65h13.2v84.7h-13.2zM1616.5 2943.65h2.1v84.7h-2.1zM1635 2943.65h2.6v84.7h-2.6zM1643.7 2943.65h8.3v84.7h-8.3zM1517.85 2861.03h2.1v84.7h-2.1zM1529.95 2861.03h2.1v84.7h-2.1zM1614.2 2861.03h27.9v84.7h-27.9zM1252.5 3026.27h2.1v112.24h-2.1zM1261.2 3026.27h3v112.24h-3zM1265.15 3026.27h2.1v112.24h-2.1zM1274.9 3026.27h20.2v112.24h-20.2zM1297.2 3026.27h4.5v112.24h-4.5zM1307.3 3026.27h4.6v112.24h-4.6zM1317.5 3026.27h2.5v112.24h-2.5zM1322 3026.27h7.6v112.24h-7.6zM1338.25 3026.27h2.1v112.24h-2.1zM1342.8 3026.27h15.2v112.24h-15.2zM1363.1 3026.27h6.1v112.24h-6.1zM1371.2 3026.27h15.8v112.24h-15.8zM1388.5 3026.27h5.1v112.24h-5.1zM1394.6 3026.27h24.8v112.24h-24.8zM1422 3026.27h13.7v112.24h-13.7zM1444.75 3026.27h2.1v112.24h-2.1zM1450.9 3026.27h3.1v112.24h-3.1zM1481.3 3026.27h2.1v112.24h-2.1zM1589.9 3026.27h3.1v112.24h-3.1zM1307.8 3136.43h2.6v84.7h-2.6zM1315 3136.43h8.6v84.7h-8.6zM1326.6 3136.43h3v84.7h-3zM1331.7 3136.43h10.6v84.7h-10.6zM1346.4 3136.43h2.5v84.7h-2.5zM1349.4 3136.43h4.6v84.7h-4.6zM1356.5 3136.43h2.6v84.7h-2.6zM1362.6 3136.43h2.6v84.7h-2.6zM1370.7 3136.43h4.1v84.7h-4.1zM1250 3026.27h205v2.08h-205zM1275 3136.43h147v2.08h-147zM1449 2943.65h203v2.08h-203zM1649 2861.03h2.6v84.7h-2.6zM1652.6 2861.03h10.7v84.7h-10.7zM1664.8 2861.03h13.2v84.7h-13.2zM1680 2861.03h2.5v84.7h-2.5zM1685.6 2861.03h4v84.7h-4zM1692.4 2861.03h2.1v84.7h-2.1zM1695.7 2861.03h5.6v84.7h-5.6zM1703.8 2861.03h2.1v84.7h-2.1zM1732.75 2861.03h2.1v84.7h-2.1zM1743.9 2861.03h2.1v84.7h-2.1zM1750.95 2861.03h2.1v84.7h-2.1zM1881.9 2861.03h2.5v84.7h-2.5zM1886 2861.03h3v84.7h-3zM1906.3 2861.03h3.5v84.7h-3.5zM1936.7 2861.03h2.5v84.7h-2.5zM1645 2943.65h4.6v84.7h-4.6zM1653.1 2943.65h3.6v84.7h-3.6zM1659.15 2943.65h2.1v84.7h-2.1zM1662.8 2943.65h2.5v84.7h-2.5zM1676 2943.65h4v84.7h-4zM1681.5 2943.65h14.2v84.7h-14.2zM1699.8 2943.65h3v84.7h-3zM1707.9 2943.65h62.9v84.7h-62.9zM1799.2 2943.65h3.6v84.7h-3.6zM1833.2 2943.65h2.5v84.7h-2.5zM1839.25 2943.65h2.1v84.7h-2.1zM1850 2943.65h3v84.7h-3zM1860.1 2943.65h76.6v84.7h-76.6zM1940.2 2943.65h7.7v84.7h-7.7zM1949.9 2943.65h8.6v84.7h-8.6zM1960 2943.65h14.2v84.7h-14.2zM1976.2 2943.65h16.8v84.7h-16.8zM1995 2943.65h6.6v84.7h-6.6zM2005.2 2943.65h5v84.7h-5zM2013.8 2943.65h36.2v84.7h-36.2zM1770.3 3026.27h70v112.24h-70zM1842.8 3026.27h29v112.24h-29zM1873.75 3026.27h2.1v112.24h-2.1zM1881.9 3026.27h3.1v112.24h-3.1zM1912.3 3026.27h2.6v112.24h-2.6zM1966.6 3026.27h2.6v112.24h-2.6zM1985.9 3026.27h2.5v112.24h-2.5zM2016.3 3026.27h2.6v112.24h-2.6zM1777 3136.43h3v84.7h-3zM1784 3136.43h3v84.7h-3zM1793.6 3136.43h2.6v84.7h-2.6zM1804.8 3136.43h3v84.7h-3zM1820 3136.43h4.6v84.7h-4.6zM1828.6 3136.43h11.7v84.7h-11.7zM1846.9 3136.43h5.1v84.7h-5.1zM1854 3136.43h3v84.7h-3zM1645 2943.65h126v2.08h-126zM1860 2943.65h190v2.08h-190zM1770 3026.27h90v2.08h-90zM1770 3136.43h102v2.08h-102zM2035 2943.65h26.7v84.7h-26.7zM2066.4 2943.65h2.4v84.7h-2.4zM2074.8 2943.65h2.1v84.7h-2.1zM2079.5 2943.65h2.1v84.7h-2.1zM2090.4 2943.65h2.3v84.7h-2.3zM2103 2943.65h2.4v84.7h-2.4zM2128.9 2943.65h7v84.7h-7zM2140 2943.65h2.1v84.7h-2.1zM2143.9 2943.65h2.8v84.7h-2.8zM2158.9 2943.65h2.8v84.7h-2.8zM2170.6 2943.65h2.8v84.7h-2.8zM2173.9 2943.65h8.9v84.7h-8.9zM2185.2 2943.65h4.7v84.7h-4.7zM2193.1 2943.65h17.4v84.7h-17.4zM2212.4 2943.65h2.3v84.7h-2.3zM2217.1 2943.65h8.9v84.7h-8.9zM2226.85 2943.65h2.1v84.7h-2.1zM2229.7 2943.65h4.3v84.7h-4.3zM2234.9 2943.65h20.2v84.7h-20.2zM2257 2943.65h10.8v84.7h-10.8zM2271 2943.65h77.9v84.7h-77.9zM2350.3 2943.65h49.7v84.7h-49.7zM2352.2 2861.03h2.4v84.7h-2.4zM2364.9 2861.03h2.8v84.7h-2.8zM2058.9 3026.27h2.4v112.24h-2.4zM2062.2 3026.27h12.7v112.24h-12.7zM2077.2 3026.27h8.5v112.24h-8.5zM2087.1 3026.27h41.8v112.24h-41.8zM2133.1 3026.27h4.7v112.24h-4.7zM2140.1 3026.27h4.7v112.24h-4.7zM2148.2 3026.27h2.5v112.24h-2.5zM2155.1 3026.27h18.3v112.24h-18.3zM2177.7 3026.27h6.1v112.24h-6.1zM2214.7 3026.27h2.4v112.24h-2.4zM2226 3026.27h2.8v112.24h-2.8zM2241 3026.27h2.8v112.24h-2.8zM2249.9 3026.27h2.8v112.24h-2.8zM2269.2 3026.27h3.7v112.24h-3.7zM2299.2 3026.27h2.8v112.24h-2.8zM2324.1 3026.27h2.8v112.24h-2.8zM2334 3026.27h2.7v112.24h-2.7zM2365.8 3026.27h2.8v88.73h-2.8zM2103 3136.43h2.9v84.7h-2.9zM2035 2943.65h27v2.08h-27zM2059 3026.27h341v2.08h-341z" fill="#1f77b4"/>
<path d="M438.9 2861.03h1.5v35.97h-1.5zM457.1 2861.03h0.9v53.97h-0.9zM231.5 2750.87h1.5v99.13h-1.5zM298.4 2750.87h1.2v42.13h-1.2zM365.5 2750.87h1.3v31.13h-1.3zM515.3 2943.65h1.5v11.35h-1.5zM532 3026.27h1.5v112.24h-1.5zM537.5 3067h1.5v71.51h-1.5zM911.5 2910h1.5v35.73h-1.5zM1066 2861.03h1.5v84.7h-1.5zM953.5 2750.87h1.5v29.13h-1.5zM974.7 2750.87h1.5v112.24h-1.5zM1478.4 2943.65h1.6v25.35h-1.6zM1510.4 2943.65h1.6v39.35h-1.6zM1567.4 3013h1.6v15.35h-1.6zM1621.8 2861.03h2v84.7h-2zM1627 2861.03h1.5v84.7h-1.5zM1634.5 2861.03h2.5v84.7h-2.5zM1684 2943.65h1v36.35h-1zM1799.8 3121h1.5v17.51h-1.5zM1830.1 3171h1.5v50.13h-1.5zM2348.9 2943.65h1.4v66.35h-1.4z" fill="#fff"/>
</svg>
<rect x="70.5" y="2476.5" width="2325" height="1019" fill="none" stroke="#000" stroke-width="1.11"/>
<path d="M70.5 3495.5v4.86M339.5 3495.5v4.86M608.5 3495.5v4.86M877.5 3495.5v4.86M1147.5 3495.5v4.86M1416.5 3495.5v4.86M1685.5 3495.5v4.86M1954.5 3495.5v4.86M2223.5 3495.5v4.86M70.5 3440.5h-4.86M70.5 3302.5h-4.86M70.5 3165.5h-4.86M70.5 3027.5h-4.86M70.5 2889.5h-4.86M70.5 2751.5h-4.86M70.5 2614.5h-4.86M70.5 2476.5h-4.86" stroke="#000" stroke-width="1.11" fill="none"/>
<text x="70.5" y="3516.1" font-size="14.2" text-anchor="middle" textLength="8.75" lengthAdjust="spacingAndGlyphs">0</text>
<text x="339.6" y="3516.1" font-size="14.2" text-anchor="middle" textLength="43.88" lengthAdjust="spacingAndGlyphs">10000</text>
<text x="608.69" y="3516.1" font-size="14.2" text-anchor="middle" textLength="43.88" lengthAdjust="spacingAndGlyphs">20000</text>
<text x="877.79" y="3516.1" font-size="14.2" text-anchor="middle" textLength="43.88" lengthAdjust="spacingAndGlyphs">30000</text>
<text x="1146.89" y="3516.1" font-size="14.2" text-anchor="middle" textLength="43.88" lengthAdjust="spacingAndGlyphs">40000</text>
<text x="1415.99" y="3516.1" font-size="14.2" text-anchor="middle" textLength="43.88" lengthAdjust="spacingAndGlyphs">50000</text>
<text x="1685.08" y="3516.1" font-size="14.2" text-anchor="middle" textLength="43.88" lengthAdjust="spacingAndGlyphs">60000</text>
<text x="1954.18" y="3516.1" font-size="14.2" text-anchor="middle" textLength="43.88" lengthAdjust="spacingAndGlyphs">70000</text>
<text x="2223.28" y="3516.1" font-size="14.2" text-anchor="middle" textLength="43.88" lengthAdjust="spacingAndGlyphs">80000</text>
<text x="30.2" y="3445.52" font-size="14.2" textLength="29.3" lengthAdjust="spacingAndGlyphs">45.5</text>
<text x="30.2" y="3307.82" font-size="14.2" textLength="29.3" lengthAdjust="spacingAndGlyphs">46.0</text>
<text x="30.2" y="3170.11" font-size="14.2" textLength="29.3" lengthAdjust="spacingAndGlyphs">46.5</text>
<text x="30.2" y="3032.41" font-size="14.2" textLength="29.3" lengthAdjust="spacingAndGlyphs">47.0</text>
<text x="30.2" y="2894.71" font-size="14.2" textLength="29.3" lengthAdjust="spacingAndGlyphs">47.5</text>
<text x="30.2" y="2757.01" font-size="14.2" textLength="29.3" lengthAdjust="spacingAndGlyphs">48.0</text>
<text x="30.2" y="2619.3" font-size="14.2" textLength="29.3" lengthAdjust="spacingAndGlyphs">48.5</text>
<text x="30.2" y="2481.6" font-size="14.2" textLength="29.3" lengthAdjust="spacingAndGlyphs">49.0</text>
<text x="1233" y="3536.1" font-size="14.2" text-anchor="middle" textLength="106.25" lengthAdjust="spacingAndGlyphs">Time of Day (s)</text>
<text transform="translate(19.9 2986) rotate(-90)" x="0" y="0" font-size="14.2" text-anchor="middle" textLength="89.62" lengthAdjust="spacingAndGlyphs">C/No (dB-Hz)</text>
<text x="1232.6" y="2468.1" font-size="17" text-anchor="middle" textLength="427.0" lengthAdjust="spacingAndGlyphs">Boston - Week 2061 Day 5 - PRN 138 C/No vs Time</text>
<rect x="123.2" y="3293.3" width="340.35" height="163.2" fill="#0000ff" fill-opacity="0.5" stroke="#000" stroke-opacity="0.5" stroke-width="1.39"/>
<text x="127.1" y="3326.9" font-size="35.5" font-style="italic" stroke="#000" stroke-width="0.7" textLength="329.25" lengthAdjust="spacingAndGlyphs">Min: 46.3 at 22218</text>
<text x="127.1" y="3365.87" font-size="35.5" font-style="italic" stroke="#000" stroke-width="0.7" textLength="317.38" lengthAdjust="spacingAndGlyphs">Max: 48.0 at 5948</text>
<text x="127.1" y="3404.84" font-size="35.5" font-style="italic" stroke="#000" stroke-width="0.7" textLength="216.88" lengthAdjust="spacingAndGlyphs">Mean: 47.15</text>
<text x="127.1" y="3443.81" font-size="35.5" font-style="italic" stroke="#000" stroke-width="0.7" textLength="237.5" lengthAdjust="spacingAndGlyphs">Std Dev: 0.31</text>
</svg></body></html>
